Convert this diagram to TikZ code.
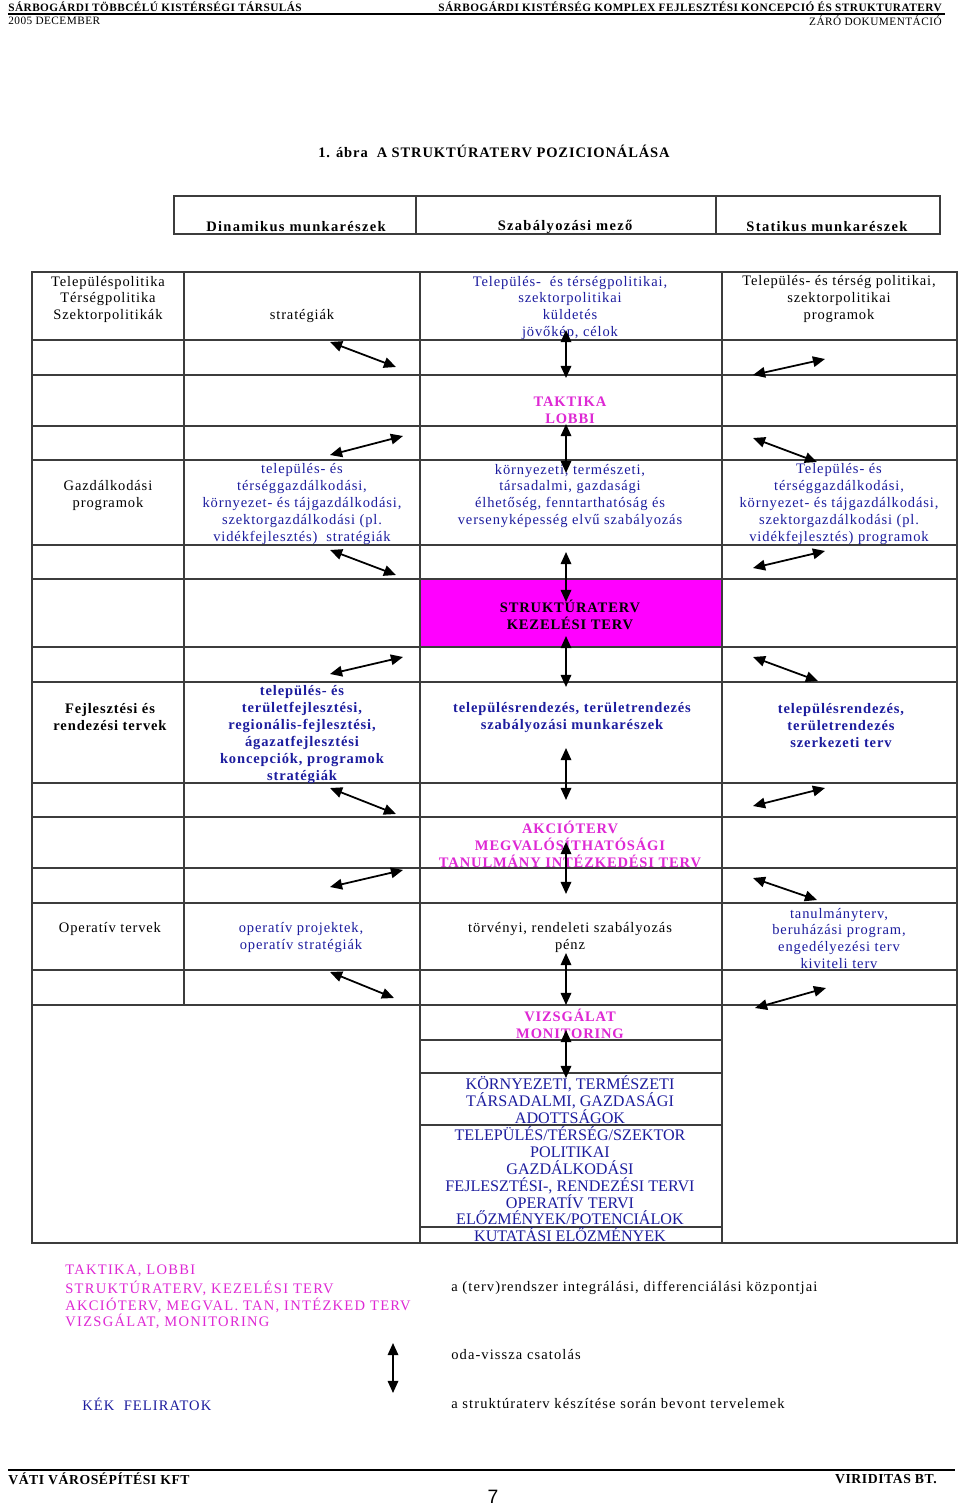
\documentclass[tikz,border=0pt]{standalone}
\usepackage{fontspec}
\setmainfont{Liberation Serif}
\newfontfamily\lsf[LetterSpace=6]{Liberation Serif}
\newfontfamily\lsl[LetterSpace=7.5]{Liberation Serif}
\newfontfamily\lsm[LetterSpace=9]{Liberation Serif}
\newfontfamily\lsw[LetterSpace=9]{Liberation Serif}
\newfontfamily\hdf[LetterSpace=4]{Liberation Serif}
\newfontfamily\pagenumfont{Liberation Sans}
\usetikzlibrary{arrows.meta}
\definecolor{tblue}{RGB}{28,28,158}
\definecolor{tmag}{RGB}{222,40,212}
\definecolor{fmag}{RGB}{255,0,255}
\definecolor{gridc}{RGB}{60,60,60}
\begin{document}
\begin{tikzpicture}[x=0.62pt,y=-0.62pt,
 grid/.style={draw=gridc,line width=0.9pt},
 cell/.style={inner sep=0,align=center,yshift=-0.9pt,font=\lsf\fontsize{9}{10.5}\selectfont},
 bcell/.style={inner sep=0,align=center,yshift=-0.9pt,font=\lsf\bfseries\fontsize{9}{10.5}\selectfont},
 bl/.style={text=tblue},
 mg/.style={text=tmag},
 stack/.style={inner sep=0,align=center,text=tblue,font=\fontsize{10}{10.4}\selectfont},
 dbl/.style={{Triangle[length=7.5pt,width=6.5pt]}-{Triangle[length=7.5pt,width=6.5pt]},line width=1.1pt},
 leg/.style={inner sep=0,anchor=west,font=\lsl\fontsize{9}{10.5}\selectfont},
 legm/.style={inner sep=0,anchor=west,text=tmag,font=\lsm\fontsize{9}{10.5}\selectfont},
 hd/.style={inner sep=0,font=\hdf\bfseries\fontsize{7}{8}\selectfont},
 hdn/.style={inner sep=0,font=\hdf\fontsize{7}{8}\selectfont},
 ft/.style={inner sep=0,font=\hdf\bfseries\fontsize{8.5}{10}\selectfont},
]
\useasboundingbox[fill=white] (0,0) rectangle (960,1506);

% page header
\node[hd,anchor=west] (h1) at (8,7) {SÁRBOGÁRDI TÖBBCÉLÚ KISTÉRSÉGI TÁRSULÁS};
\node[hd,anchor=east] (h2) at (942,7) {SÁRBOGÁRDI KISTÉRSÉG KOMPLEX FEJLESZTÉSI KONCEPCIÓ ÉS STRUKTURATERV};
\coordinate (hl1) at (8,14);
\coordinate (hl2) at (945,14);
\draw[line width=1.2pt] (hl1) -- (hl2);
\node[hdn,anchor=west] (h3) at (8,21) {2005 DECEMBER};
\node[hdn,anchor=east] (h4) at (942,21) {ZÁRÓ DOKUMENTÁCIÓ};

% title
\node[bcell] (title) at (494,150) {1. ábra\ \ A STRUKTÚRATERV POZICIONÁLÁSA};

% header box
\draw[grid] (174,196) rectangle (940,234);
\draw[grid] (416,196) -- (416,234);
\draw[grid] (716,196) -- (716,234);
\node[inner sep=0,yshift=-0.6pt,font=\lsw\bfseries\fontsize{9}{10.5}\selectfont] (hc1) at (296,226) {Dinamikus munkarészek};
\node[inner sep=0,yshift=-0.6pt,font=\lsw\bfseries\fontsize{9}{10.5}\selectfont] (hc2) at (565,226) {Szabályozási mező};
\node[inner sep=0,yshift=-0.6pt,font=\lsw\bfseries\fontsize{9}{10.5}\selectfont] (hc3) at (827,226) {Statikus munkarészek};

% magenta cell
\fill[fmag] (420,579) rectangle (722,647);

% main table grid
\draw[grid] (32,272) rectangle (957,1243);
\foreach \y in {340,375,426,460,545,579,647,682,783,817,868,903,970,1005}
  \draw[grid] (32,\y) -- (957,\y);
\foreach \y in {1040,1073,1125,1227}
  \draw[grid] (420,\y) -- (722,\y);
\draw[grid] (184,272) -- (184,1005);
\draw[grid] (420,272) -- (420,1243);
\draw[grid] (722,272) -- (722,1243);

% row 1
\node[cell] (n11) at (108,298) {Településpolitika\\Térségpolitika\\Szektorpolitikák};
\node[cell] (n12) at (302,315) {stratégiák};
\node[cell,bl] (n13) at (570,306.5) {Település-\ \ és térségpolitikai,\\szektorpolitikai\\küldetés\\jövőkép, célok};
\node[cell] (n14) at (839,298) {Település- és térség politikai,\\szektorpolitikai\\programok};

% row 3
\node[bcell,mg] (n33) at (570,408.5) {TAKTIKA\\LOBBI};

% row 5
\node[cell] (n51) at (108,494.5) {Gazdálkodási\\programok};
\node[cell,bl] (n52) at (302,502.5) {település- és\\térséggazdálkodási,\\környezet- és tájgazdálkodási,\\szektorgazdálkodási (pl.\\vidékfejlesztés)\ \ stratégiák};
\node[cell,bl] (n53) at (570,494.5) {környezeti, természeti,\\társadalmi, gazdasági\\élhetőség, fenntarthatóság és\\versenyképesség elvű szabályozás};
\node[cell,bl] (n54) at (839,502.5) {Település- és\\térséggazdálkodási,\\környezet- és tájgazdálkodási,\\szektorgazdálkodási (pl.\\vidékfejlesztés) programok};

% row 7
\node[bcell] (n73) at (570,613.5) {STRUKTÚRATERV\\KEZELÉSI TERV};

% row 9
\node[bcell] (n91) at (110,716) {Fejlesztési és\\rendezési tervek};
\node[bcell,bl] (n92) at (302,733) {település- és\\területfejlesztési,\\regionális-fejlesztési,\\ágazatfejlesztési\\koncepciók, programok\\stratégiák};
\node[bcell,bl] (n93) at (572,716) {településrendezés, területrendezés\\szabályozási munkarészek};
\node[bcell,bl] (n94) at (841,724.5) {településrendezés,\\területrendezés\\szerkezeti terv};

% row 11
\node[bcell,mg] (n113) at (570,843) {AKCIÓTERV\\MEGVALÓSÍTHATÓSÁGI\\TANULMÁNY INTÉZKEDÉSI TERV};

% row 13
\node[cell] (n131) at (110,928) {Operatív tervek};
\node[cell,bl] (n132) at (301,936.5) {operatív projektek,\\operatív stratégiák};
\node[cell] (n133) at (570,936.5) {törvényi, rendeleti szabályozás\\pénz};
\node[cell,bl] (n134) at (839,937) {tanulmányterv,\\beruházási program,\\engedélyezési terv\\kiviteli terv};

% row 15
\node[bcell,mg] (n153) at (570,1022.5) {VIZSGÁLAT\\MONITORING};

% bottom stack
\node[stack] (s1) at (570,1099.5) {KÖRNYEZETI, TERMÉSZETI\\TÁRSADALMI, GAZDASÁGI\\ADOTTSÁGOK};
\node[stack] (s2) at (570,1176) {TELEPÜLÉS/TÉRSÉG/SZEKTOR\\POLITIKAI\\GAZDÁLKODÁSI\\FEJLESZTÉSI-, RENDEZÉSI TERVI\\OPERATÍV TERVI\\ELŐZMÉNYEK/POTENCIÁLOK};
\node[stack] (s3) at (570,1235) {KUTATÁSI ELŐZMÉNYEK};

% arrows
\foreach \n/\a/\b/\c/\d in {
  c2a/330/342/396/367, c2b/330/455/403/436, c2c/330/550/396/575,
  c2d/330/674/403/657, c2e/330/788/396/814, c2f/330/887/403/870,
  c2g/330/972/394/998,
  v1/566/330/566/378, v2/566/424/566/473, v3/566/552/566/602,
  v4/566/636/566/687, v5/566/748/566/800, v6/566/842/566/894,
  v7/566/953/566/1005, v8/566/1030/566/1078,
  c4a/753/375/825/359, c4b/753/438/817/462, c4c/753/568/825/551,
  c4d/753/657/818/681, c4e/753/806/825/788, c4f/753/878/817/900,
  c4g/755/1008/826/988}
{
  \coordinate (\n s) at (\a,\b);
  \coordinate (\n e) at (\c,\d);
  \draw[dbl] (\n s) -- (\n e);
}

% legend
\node[legm] (l1) at (65,1271) {TAKTIKA, LOBBI};
\node[legm] (l2) at (65,1288) {STRUKTÚRATERV, KEZELÉSI TERV};
\node[legm] (l3) at (65,1305) {AKCIÓTERV, MEGVAL. TAN, INTÉZKED TERV};
\node[legm] (l4) at (65,1321) {VIZSGÁLAT, MONITORING};
\node[leg] (l5) at (451,1288) {a (terv)rendszer integrálási, differenciálási központjai};
\coordinate (la1) at (393,1343);
\coordinate (la2) at (393,1393);
\draw[dbl] (la1) -- (la2);
\node[leg] (l6) at (451,1355) {oda-vissza csatolás};
\node[leg,bl] (l7) at (82,1404) {KÉK\ \ FELIRATOK};
\node[leg] (l8) at (451,1404) {a struktúraterv készítése során bevont tervelemek};

% footer
\coordinate (fl1) at (8,1470);
\coordinate (fl2) at (955,1470);
\draw[line width=1.2pt] (fl1) -- (fl2);
\node[ft,anchor=west] (f1) at (8,1479) {VÁTI VÁROSÉPÍTÉSI KFT};
\node[ft,anchor=east] (f2) at (937,1479) {VIRIDITAS BT.};
\node[inner sep=0,font=\pagenumfont\fontsize{12}{14}\selectfont] (pg) at (493,1497) {7};
\end{tikzpicture}
\end{document}
